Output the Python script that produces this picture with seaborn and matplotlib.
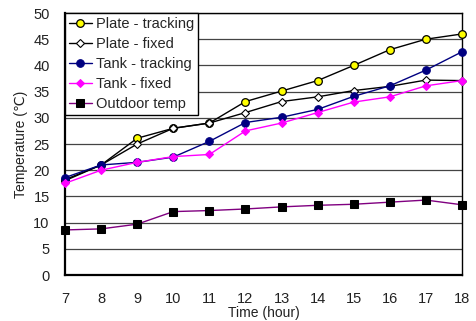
import matplotlib
matplotlib.use("Agg")
import matplotlib.pyplot as plt
import seaborn as sns
import pandas as pd

hours = [7, 8, 9, 10, 11, 12, 13, 14, 15, 16, 17, 18]
plate_tracking = [18.2, 21.0, 26.1, 28.0, 29.0, 33.1, 35.1, 37.1, 40.0, 43.0, 45.0, 46.0]
plate_fixed = [18.0, 21.0, 25.0, 28.0, 29.0, 31.0, 33.1, 34.0, 35.2, 36.0, 37.2, 37.1]
tank_tracking = [18.6, 21.0, 21.5, 22.5, 25.5, 29.1, 30.1, 31.6, 34.1, 36.1, 39.1, 42.6]
tank_fixed = [17.5, 20.0, 21.5, 22.6, 23.0, 27.5, 29.0, 31.0, 33.0, 34.0, 36.1, 37.1]
outdoor = [8.6, 8.8, 9.7, 12.1, 12.3, 12.6, 13.0, 13.3, 13.5, 13.9, 14.3, 13.4]

series = [
    ("Plate - tracking", plate_tracking, dict(color="black", marker="o", markerfacecolor="#FFFF00",
                                              markeredgecolor="black", markersize=5.5,
                                              markeredgewidth=0.9)),
    ("Plate - fixed", plate_fixed, dict(color="black", marker="D", markerfacecolor="white",
                                        markeredgecolor="black", markersize=3.8,
                                        markeredgewidth=0.8)),
    ("Tank - tracking", tank_tracking, dict(color="#000080", marker="o", markerfacecolor="#000080",
                                            markeredgecolor="#000080", markersize=5.5)),
    ("Tank - fixed", tank_fixed, dict(color="#FF00FF", marker="D", markerfacecolor="#FF00FF",
                                      markeredgecolor="#FF00FF", markersize=4.2)),
    ("Outdoor temp", outdoor, dict(color="#800080", marker="s", markerfacecolor="black",
                                   markeredgecolor="black", markersize=5.5)),
]

sns.set_style("white")
plt.rcParams["font.family"] = ["Liberation Sans", "DejaVu Sans"]

fig = plt.figure(figsize=(4.76, 3.21), dpi=100)
ax = fig.add_axes([0.1366, 0.1433, 0.834, 0.8162])

for name, vals, style in series:
    df = pd.DataFrame({"hour": hours, "temp": vals})
    sns.lineplot(data=df, x="hour", y="temp", ax=ax, label=name, linewidth=1.0,
                 clip_on=False, zorder=3, **style)

ax.set_xlim(7, 18)
ax.set_ylim(0, 50)
ax.set_xticks(hours)
ax.set_yticks(range(0, 51, 5))
ax.yaxis.grid(True, color="#444444", linewidth=0.9)
ax.set_axisbelow(True)
for s in ax.spines.values():
    s.set_color("black")
    s.set_linewidth(1.0)
ax.spines["left"].set_linewidth(1.6)
ax.spines["bottom"].set_linewidth(1.6)

ax.tick_params(axis="x", direction="in", length=5, width=1, color="black",
               labelsize=10.5, pad=12, labelcolor="#222222")
ax.tick_params(axis="y", length=0, labelsize=10.5, pad=11, labelcolor="#222222")

ax.set_xlabel("Time (hour)", fontsize=10, color="#222222", labelpad=0)
ax.set_ylabel("Temperature (\u2103)", fontsize=10, color="#222222", labelpad=4)

leg = ax.legend(loc="upper left", bbox_to_anchor=(0, 1), borderaxespad=0, fontsize=10.5,
                frameon=True, fancybox=False, framealpha=1, edgecolor="black",
                handlelength=1.6, handletextpad=0.25, labelspacing=0.42,
                borderpad=0.25)
leg.get_frame().set_linewidth(1.0)

fig.savefig("out.png", dpi=100)
